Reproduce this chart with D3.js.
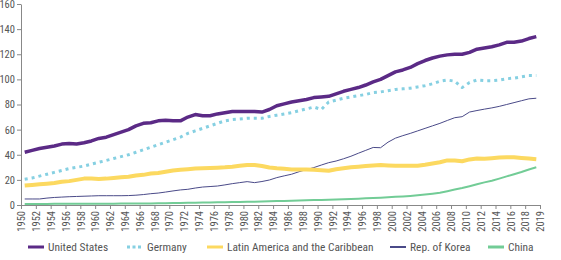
<!DOCTYPE html>
<html>
<head>
<meta charset="utf-8">
<script src="https://cdn.jsdelivr.net/npm/d3@7"></script>
<style>
  body { margin: 0; background: #fff; }
  svg text { font-family: "Roboto Condensed", "Liberation Sans Narrow", "DejaVu Sans Condensed", Roboto, sans-serif; }
  .axis path, .axis line { stroke: #888; }
  .axis text { fill: #555; }
</style>
</head>
<body>
<script>
var years = d3.range(1950, 2020);

var unitedStates = [42,43.5,45,46,47,48.5,49,48.5,49.5,51,53,54,56,58,60,63,65,65.5,67,67.5,
  67,67,70,72,71,71,72.5,73.5,74.5,74.5,74.5,74.5,74,76,79,80.5,82,83,84,85.5,
  86,86.5,88.5,90.5,92,93.5,95.5,98,100,103,106,107.5,109.5,112.5,115,117,118.5,119.5,120,120,
  121.5,124,125,126,127.5,129.5,129.5,130.5,132.5,134];
var germany = [20.5,21.5,23,24.5,26,27.5,29,30,31,32.5,34,35.5,37,38.5,40,42,44,46,48,50,
  52,54,57,59,61,63,65,67,68,68.5,69,69,69,70.5,71.5,72.5,73.5,75,76.5,78,
  76,82,83.5,85,86,87,88,89.5,90,91,92,92.5,93,94,95,96.5,98.5,99.5,98.5,93.5,
  97.5,99.5,99,99,99.5,100.5,101,102,103,103];
var latinAmerica = [15.5,16,16.5,17,17.5,18.5,19,20,21,21,20.7,21,21.5,22,22.5,23.5,24,25,25.5,26.5,
  27.5,28,28.5,29,29.3,29.5,29.7,30,30.5,31.2,31.8,31.8,31,29.8,29.2,28.8,28.3,28.3,28.3,28,
  27.6,27.3,28.5,29.3,30,30.5,31,31.5,31.8,31.5,31.3,31.3,31.2,31.2,32,33,34,35.5,35.5,34.8,
  36.3,37,36.8,37.3,37.8,38,38,37.5,37,36.5];
var korea = [4.8,4.8,4.8,5.5,6,6.3,6.6,6.8,7,7.2,7.4,7.4,7.4,7.4,7.5,7.8,8.3,9,9.5,10.3,
  11.2,12,12.5,13.5,14.3,14.7,15.1,16,17,17.8,18.6,17.8,18.7,19.9,21.8,23.2,24.5,26.5,28.2,29.8,
  31.8,33.7,35,36.8,38.8,41.2,43.5,45.8,45.6,50,53.2,55.2,57,59,61,63,65,67.3,69.5,70.3,
  74,75.2,76.3,77.3,78.5,80,81.5,83,84.5,85];
var china = [0.8,0.8,0.8,0.8,0.9,0.9,0.9,0.9,1,1,1,1,1,1.1,1.1,1.2,1.2,1.2,1.3,1.4,
  1.5,1.6,1.7,1.8,1.9,2,2.1,2.2,2.3,2.4,2.5,2.6,2.7,2.9,3.1,3.2,3.4,3.6,3.8,3.9,
  4,4.2,4.4,4.6,4.8,5,5.3,5.5,5.8,6.1,6.5,6.8,7.2,7.7,8.3,9,9.8,11,12.3,13.5,
  15,16.5,18,19.3,21,22.8,24.5,26.3,28.3,30];

var yTicks = [0,20,40,60,80,100,120,140,160];
var xTicks = d3.range(1950, 2019, 2).concat([2019]);

var series = [
  {name: "United States", values: unitedStates, color: "#5b2a86", width: 3.5, dash: null},
  {name: "Germany", values: germany, color: "#86d0e2", width: 3, dash: "3,4"},
  {name: "Latin America and the Caribbean", values: latinAmerica, color: "#fcd960", width: 4, dash: null},
  {name: "Rep. of Korea", values: korea, color: "#4a4a88", width: 1, dash: null},
  {name: "China", values: china, color: "#72cc96", width: 2, dash: null}
];

var WIDTH = 561, HEIGHT = 260;
var LEFT = 21, RIGHT = 540, TOP = 4, BOTTOM = 205;

var svg = d3.select("body").append("svg")
  .attr("width", WIDTH)
  .attr("height", HEIGHT);

// years sit in the middle of their slot, the last label closes the axis
var xScale = d3.scaleLinear().domain([1950, 2020]).range([LEFT, RIGHT]);
var yScale = d3.scaleLinear().domain([0, 160]).range([BOTTOM, TOP]);

var xAxis = d3.axisBottom(xScale)
  .tickValues(xTicks.map(function (d) { return d === 2019 ? 2020 : d; }))
  .tickFormat(function (d) { return d === 2020 ? "2019" : d; })
  .tickSize(4)
  .tickSizeOuter(0);

var yAxis = d3.axisLeft(yScale)
  .tickValues(yTicks)
  .tickSize(4)
  .tickPadding(2)
  .tickSizeOuter(0);

svg.append("g")
  .attr("class", "axis")
  .attr("transform", "translate(0," + BOTTOM + ")")
  .call(xAxis)
  .selectAll("text")
  .attr("transform", "rotate(-90)")
  .attr("text-anchor", "end")
  .attr("x", -6)
  .attr("y", 0)
  .attr("dy", "0.35em")
  .style("font-size", "10.5px");

svg.append("g")
  .attr("class", "axis")
  .attr("transform", "translate(" + LEFT + ",0)")
  .call(yAxis)
  .selectAll("text")
  .style("font-size", "10.5px");

svg.selectAll(".axis .domain").attr("stroke", "#888");

var line = d3.line()
  .x(function (d, i) { return xScale(years[i] + 0.5); })
  .y(function (d) { return yScale(d); });

// draw order: thin lines under the thick ones
var drawOrder = [4, 3, 2, 1, 0];
drawOrder.forEach(function (k) {
  var s = series[k];
  svg.append("path")
    .attr("d", line(s.values))
    .attr("fill", "none")
    .attr("stroke", s.color)
    .attr("stroke-width", s.width)
    .attr("stroke-dasharray", s.dash)
    .attr("stroke-linejoin", "round");
});

// legend
var legendX = [28, 127, 207, 390, 488];
var legendY = 247;
var legend = svg.append("g");
series.forEach(function (s, i) {
  legend.append("line")
    .attr("x1", legendX[i]).attr("x2", legendX[i] + 16)
    .attr("y1", legendY).attr("y2", legendY)
    .attr("stroke", s.color)
    .attr("stroke-width", s.width < 2 ? 2 : 3)
    .attr("stroke-dasharray", s.dash ? "3,2.5" : null);
  legend.append("text")
    .attr("x", legendX[i] + 20)
    .attr("y", legendY)
    .attr("dy", "0.35em")
    .attr("fill", "#555")
    .style("font-size", "11.4px")
    .text(s.name);
});
</script>
</body>
</html>
